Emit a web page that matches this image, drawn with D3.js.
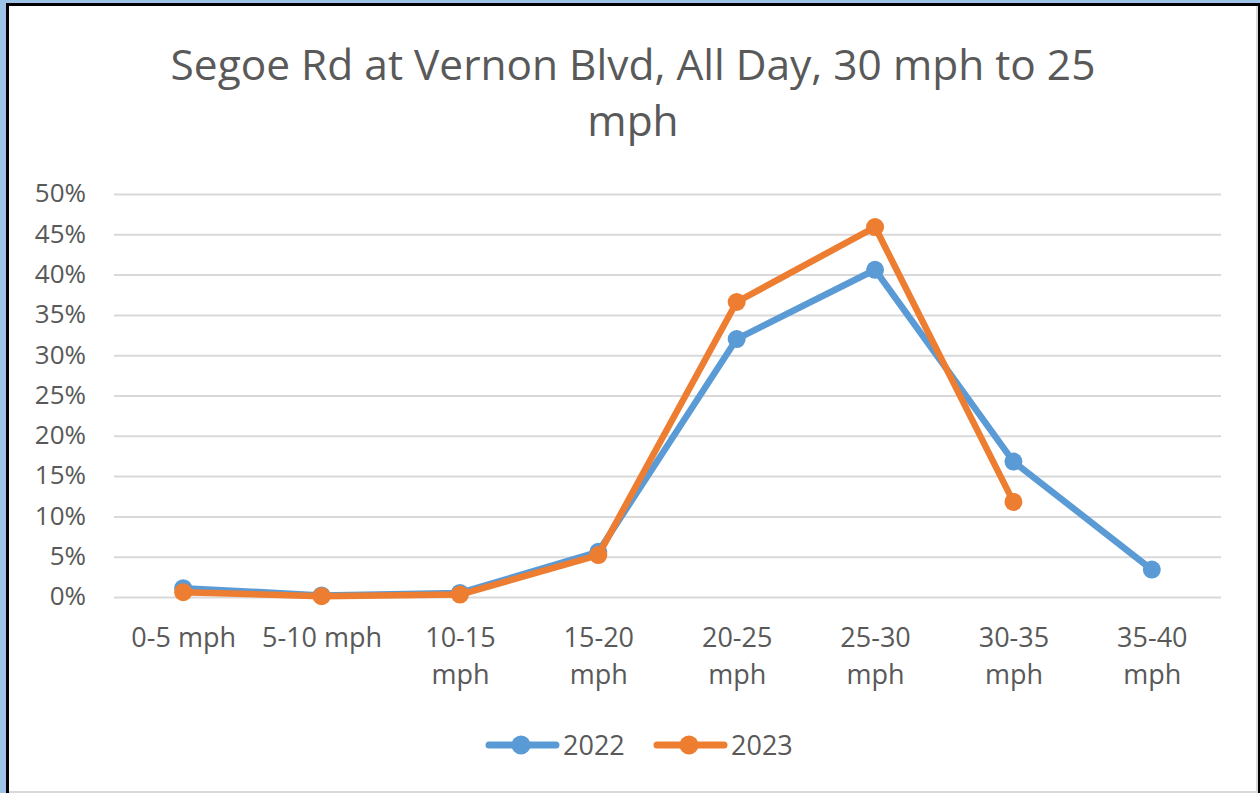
<!DOCTYPE html>
<html>
<head>
<meta charset="utf-8">
<script src="https://cdn.jsdelivr.net/npm/d3@7"></script>
<style>
  html, body { margin: 0; padding: 0; background: #9DC3E6; }
  svg { display: block; }
  text { font-family: "Open Sans", "Noto Sans", sans-serif; fill: #595959; }
</style>
</head>
<body>
<svg id="chart" width="1260" height="793"></svg>
<script>
// Speed bins and share of vehicles in each bin
const categories = ["0-5 mph", "5-10 mph", "10-15 mph", "15-20 mph", "20-25 mph", "25-30 mph", "30-35 mph", "35-40 mph"];
const values2022 = [0.011, 0.002, 0.005, 0.056, 0.320, 0.406, 0.168, 0.034];
const values2023 = [0.006, 0.001, 0.003, 0.052, 0.366, 0.459, 0.118, null];
const yTicks = [0, 0.05, 0.10, 0.15, 0.20, 0.25, 0.30, 0.35, 0.40, 0.45, 0.50];
const seriesNames = ["2022", "2023"];
const seriesColors = ["#5B9BD5", "#ED7D31"];
const titleLines = ["Segoe Rd at Vernon Blvd, All Day, 30 mph to 25", "mph"];

const FONT = "'Open Sans', 'Noto Sans', sans-serif";
const svg = d3.select("#chart");

// Window frame
svg.append("rect").attr("x", 0).attr("y", 0).attr("width", 1260).attr("height", 793).attr("fill", "#9DC3E6");
svg.append("rect").attr("x", 6).attr("y", 3).attr("width", 1254).attr("height", 792).attr("fill", "#000");
svg.append("rect").attr("x", 9).attr("y", 6).attr("width", 1249).attr("height", 788).attr("fill", "#d9d9d9");
svg.append("rect").attr("x", 9).attr("y", 6).attr("width", 1247).attr("height", 785).attr("fill", "#fff");

const plot = { left: 114, right: 1221, top: 194, bottom: 597 };

const x = d3.scalePoint().domain(categories).range([plot.left, plot.right]).padding(0.5);
const y = d3.scaleLinear().domain([0, 0.5]).range([plot.bottom, plot.top]);

// Title, sized to its measured width
function fitText(sel, targetWidth, startSize) {
  sel.attr("font-size", startSize);
  const w = sel.node().getComputedTextLength();
  sel.attr("font-size", startSize * targetWidth / w);
}
const t1 = svg.append("text").attr("x", 633).attr("y", 80).attr("text-anchor", "middle").text(titleLines[0]);
fitText(t1, 925, 40);
const titleSize = +t1.attr("font-size");
svg.append("text").attr("x", 633).attr("y", 136).attr("text-anchor", "middle")
  .attr("font-size", titleSize).text(titleLines[1]);

// Gridlines and y labels
const yAxis = d3.axisLeft(y).tickValues(yTicks).tickFormat(d3.format(".0%"))
  .tickSize(-(plot.right - plot.left)).tickPadding(0);
const gy = svg.append("g").attr("transform", `translate(${plot.left},0)`).call(yAxis);
gy.select(".domain").remove();
gy.selectAll(".tick line").attr("stroke", "#d9d9d9").attr("stroke-width", 2);
gy.selectAll(".tick text").attr("font-size", 26).attr("fill", "#595959")
  .style("font-family", FONT).attr("x", -28).attr("dy", "0.3em");

// Category labels (wrapped onto two lines when the label does not fit its slot)
const xAxis = d3.axisBottom(x).tickSize(0).tickPadding(0);
const gx = svg.append("g").attr("transform", `translate(0,${plot.bottom})`).call(xAxis);
gx.select(".domain").remove();
gx.selectAll(".tick text").each(function (d, i) {
  const el = d3.select(this);
  el.text(null).attr("font-size", 27).attr("fill", "#595959")
    .style("font-family", FONT).attr("y", 0).attr("dy", null);
  const lines = (i < 2) ? [d] : d.split(" ");
  lines.forEach((ln, k) => {
    el.append("tspan").attr("x", 0).attr("y", 50 + k * 37).text(ln);
  });
});

// Series lines and markers
const series = [values2022, values2023];
const line = d3.line()
  .defined(d => d.v != null)
  .x(d => x(d.c))
  .y(d => y(d.v));

series.forEach((vals, si) => {
  const pts = categories.map((c, i) => ({ c, v: vals[i] }));
  svg.append("path").datum(pts)
    .attr("fill", "none").attr("stroke", seriesColors[si]).attr("stroke-width", 6.5)
    .attr("stroke-linejoin", "round").attr("stroke-linecap", "round")
    .attr("d", line);
  svg.append("g").selectAll("circle").data(pts.filter(d => d.v != null)).join("circle")
    .attr("cx", d => x(d.c)).attr("cy", d => y(d.v)).attr("r", 9)
    .attr("fill", seriesColors[si]);
});

// Legend
const legendY = 745;
const legendX = [487, 655];
seriesNames.forEach((name, i) => {
  const g = svg.append("g").attr("transform", `translate(${legendX[i]},${legendY})`);
  g.append("line").attr("x1", 2).attr("x2", 69).attr("y1", 0).attr("y2", 0)
    .attr("stroke", seriesColors[i]).attr("stroke-width", 7).attr("stroke-linecap", "round");
  g.append("circle").attr("cx", 34).attr("cy", 0).attr("r", 9.5).attr("fill", seriesColors[i]);
  g.append("text").attr("x", 76).attr("y", 0).attr("dy", "0.36em").attr("font-size", 27).text(name);
});
</script>
</body>
</html>
